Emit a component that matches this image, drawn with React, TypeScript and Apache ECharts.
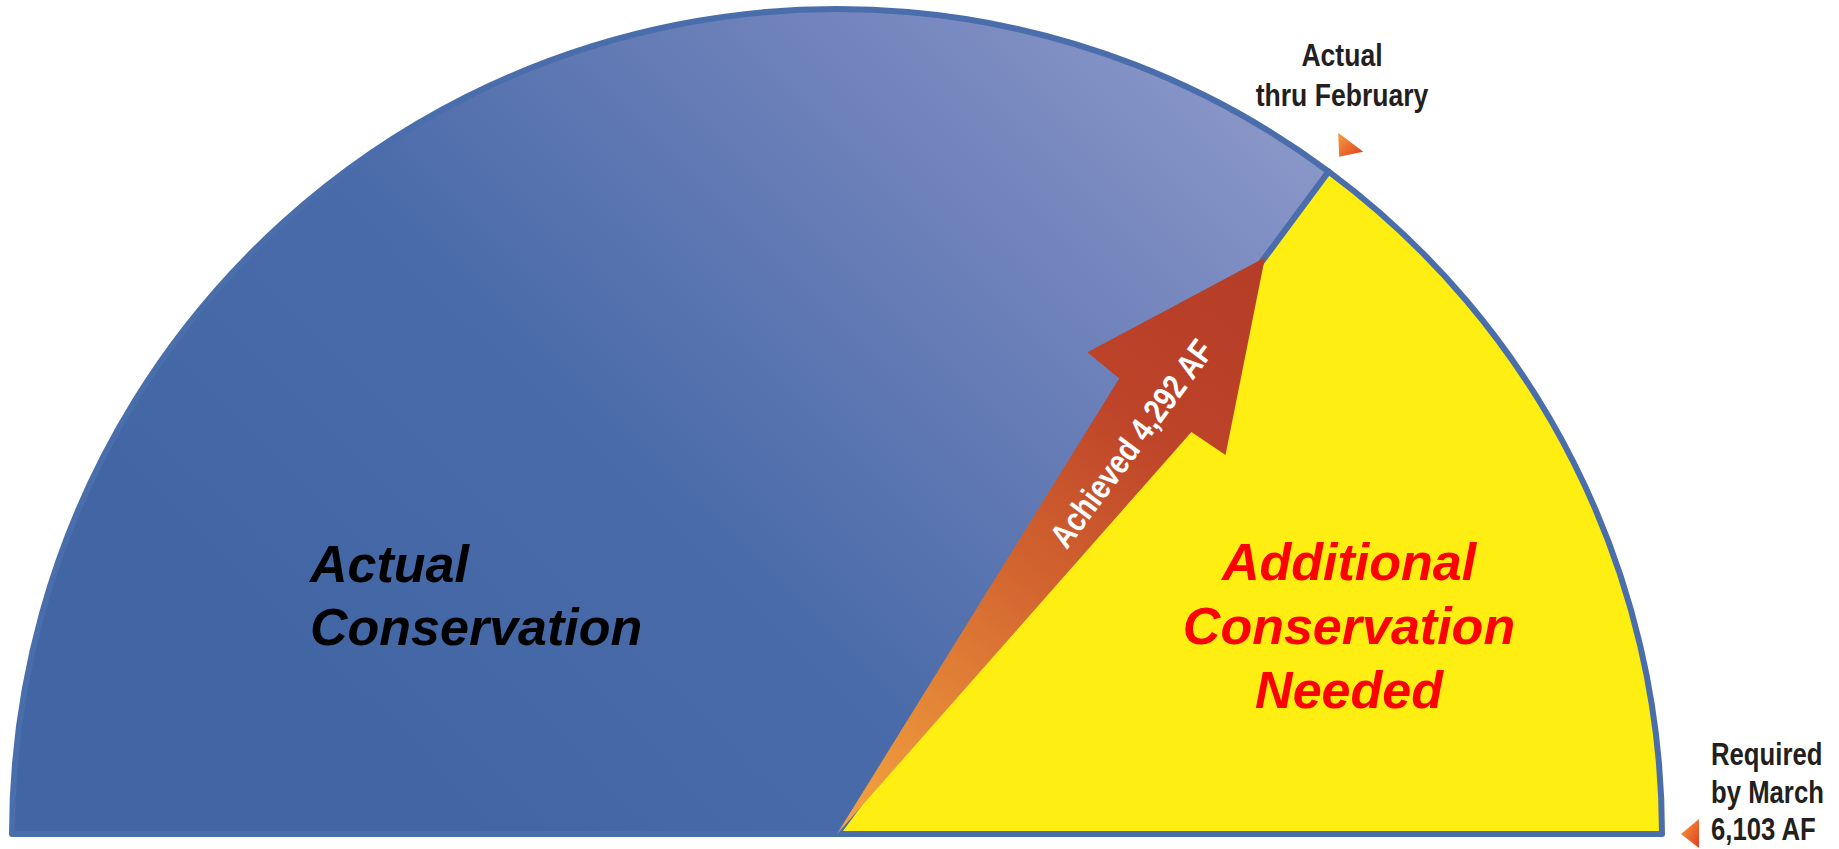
import React, { useEffect, useRef } from "react";
import * as echarts from "echarts";

// ---- data ----
const SEGMENT_NAMES = ["Actual Conservation", "Additional Conservation Needed"];
const ACHIEVED_AF = 4292;
const REQUIRED_AF = 6103;
const SEGMENT_VALUES = [ACHIEVED_AF, REQUIRED_AF - ACHIEVED_AF];
const ACTUAL_LABEL = ["Actual", "thru February"];
const REQUIRED_LABEL = ["Required", "by March"];
const UNIT = "AF";

// ---- layout / style ----
const W = 1839;
const H = 849;
const CX = 837;
const CY = 834;
const R = 825;
const BORDER = 6;
const ARIAL = "'Liberation Sans', Arial, sans-serif";
const NARROW_SCALE = 0.83;

const fmt = (v: number) => v.toLocaleString("en-US");

export default function App() {
  const ref = useRef<HTMLDivElement>(null);

  useEffect(() => {
    document.body.style.margin = "0";
    document.body.style.overflow = "hidden";
    if (!ref.current) return;
    const chart = echarts.init(ref.current, undefined, { renderer: "svg" });

    const total = SEGMENT_VALUES.reduce((a, b) => a + b, 0);
    // angle (from the right horizontal, counter-clockwise) of the achieved boundary
    const theta = Math.PI * (1 - SEGMENT_VALUES[0] / total);
    const ux = Math.cos(theta);
    const uy = -Math.sin(theta);
    const vx = -Math.sin(theta);
    const vy = -Math.cos(theta);
    const P = (u: number, v: number) => [CX + u * ux + v * vx, CY + u * uy + v * vy];

    const arrowPts = [
      P(0, 0),
      P(534, 45),
      P(536, 86),
      P(718, 0),
      P(536, -86),
      P(534, -45),
    ];
    const tip = P(718, 0);
    const textPos = P(489, -4);

    const outerR = R + BORDER / 2;
    const markR = outerR + 28;
    const m1 = [CX + markR * Math.cos(theta), CY - markR * Math.sin(theta)];
    const m2 = [CX + markR, CY];

    const triGrad = {
      type: "linear",
      x: 0,
      y: 0,
      x2: 1,
      y2: 1,
      colorStops: [
        { offset: 0, color: "#f7a040" },
        { offset: 1, color: "#e03c1e" },
      ],
    };

    const blueGrad = {
      type: "linear",
      x: 480,
      y: 834,
      x2: 1250,
      y2: 60,
      global: true,
      colorStops: [
        { offset: 0, color: "#4266a4" },
        { offset: 0.35, color: "#4a6ba9" },
        { offset: 0.75, color: "#7284bc" },
        { offset: 1, color: "#8b98c9" },
      ],
    };

    const arrowGrad = {
      type: "linear",
      x: CX,
      y: CY,
      x2: tip[0],
      y2: tip[1],
      global: true,
      colorStops: [
        { offset: 0, color: "#f5a640" },
        { offset: 0.45, color: "#d2642f" },
        { offset: 0.72, color: "#bd4329" },
        { offset: 1, color: "#b53c26" },
      ],
    };

    const narrowText = (
      x: number,
      y: number,
      text: string,
      size: number,
      lineHeight: number,
      align: string,
      fill = "#231f20",
      rotation = 0
    ) => ({
      type: "text",
      z: 11,
      x,
      y,
      rotation,
      scaleX: NARROW_SCALE,
      style: {
        text,
        fill,
        fontFamily: ARIAL,
        fontWeight: "bold",
        fontSize: size,
        lineHeight,
        align,
        verticalAlign: "middle",
        textAlign: align,
        textVerticalAlign: "middle",
      },
    });

    chart.setOption({
      animation: false,
      tooltip: { show: false },
      series: [
        {
          type: "pie",
          silent: true,
          center: [CX, CY],
          radius: [0, R],
          startAngle: 180,
          clockwise: true,
          label: { show: false },
          labelLine: { show: false },
          emphasis: { disabled: true },
          itemStyle: { borderColor: "#4a6dab", borderWidth: BORDER },
          data: [
            { name: SEGMENT_NAMES[0], value: SEGMENT_VALUES[0], itemStyle: { color: blueGrad } },
            { name: SEGMENT_NAMES[1], value: SEGMENT_VALUES[1], itemStyle: { color: "#FFEE12" } },
            {
              name: "",
              value: total,
              itemStyle: { color: "rgba(0,0,0,0)", borderWidth: 0 },
            },
          ],
        },
      ],
      graphic: [
        {
          type: "polygon",
          z: 10,
          shape: { points: arrowPts },
          style: { fill: arrowGrad },
        },
        narrowText(
          textPos[0],
          textPos[1],
          `Achieved ${fmt(ACHIEVED_AF)} ${UNIT}`,
          34,
          40,
          "center",
          "#ffffff",
          theta
        ),
        {
          type: "text",
          z: 11,
          x: 310,
          y: 595,
          style: {
            text: SEGMENT_NAMES[0].replace(" ", "\n"),
            fill: "#000000",
            fontFamily: ARIAL,
            fontWeight: "bold",
            fontStyle: "italic",
            fontSize: 52,
            lineHeight: 63,
            align: "left",
            verticalAlign: "middle",
            textAlign: "left",
            textVerticalAlign: "middle",
          },
        },
        {
          type: "text",
          z: 11,
          x: 1349,
          y: 626,
          style: {
            text: "Additional\nConservation\nNeeded",
            fill: "#ff0000",
            fontFamily: ARIAL,
            fontWeight: "bold",
            fontStyle: "italic",
            fontSize: 52,
            lineHeight: 64,
            align: "center",
            verticalAlign: "middle",
            textAlign: "center",
            textVerticalAlign: "middle",
          },
        },
        narrowText(1342, 75, ACTUAL_LABEL.join("\n"), 32, 40, "center"),
        narrowText(
          1711,
          792,
          [...REQUIRED_LABEL, `${fmt(REQUIRED_AF)} ${UNIT}`].join("\n"),
          31,
          37.5,
          "left"
        ),
        {
          type: "polygon",
          z: 11,
          x: m1[0],
          y: m1[1],
          shape: { points: [[-9, -14], [16, 5], [-8, 10]] },
          style: { fill: triGrad },
        },
        {
          type: "polygon",
          z: 11,
          x: m2[0],
          y: m2[1],
          shape: { points: [[-12, 0], [6, -15], [6, 14]] },
          style: { fill: triGrad },
        },
      ],
    });

    return () => chart.dispose();
  }, []);

  return <div ref={ref} style={{ width: W, height: H }} />;
}
